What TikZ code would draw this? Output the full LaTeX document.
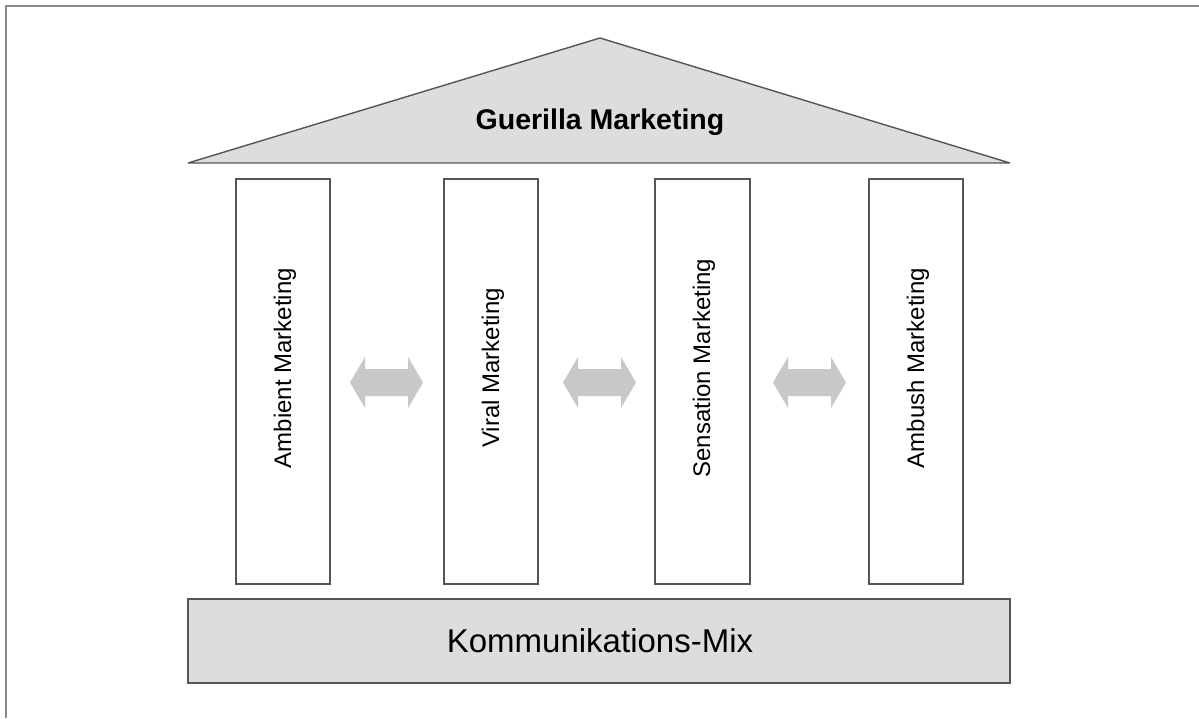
\documentclass[tikz,border=0pt]{standalone}
\usepackage{fontspec}
\setmainfont{Liberation Sans}
\definecolor{roofgray}{HTML}{DDDDDD}
\definecolor{linegray}{HTML}{555555}
\definecolor{framegray}{HTML}{8A8A8A}
\definecolor{arrowgray}{HTML}{C8C8C8}
\begin{document}
\begin{tikzpicture}[x=1pt,y=-1pt,
  pillar/.style={draw=linegray, line width=1.4pt, fill=white},
  pillartext/.style={rotate=90, font=\fontsize{24}{28}\selectfont, inner sep=0pt},
  linkarrow/.style={fill=arrowgray, draw=none}]
\useasboundingbox (0,0) rectangle (1199,718);
\fill[white] (0,0) rectangle (1199,718);
% frame (only top and left visible)
\draw[framegray, line width=2pt] (6,718) -- (6,6) -- (1199,6);
% roof
\coordinate (apex) at (600,38);
\coordinate (roofL) at (188,163);
\coordinate (roofR) at (1010,163);
\draw[linegray, line width=1.4pt, fill=roofgray, line join=bevel] (roofL) -- (apex) -- (roofR) -- cycle;
\node[font=\bfseries\fontsize{28.5}{32}\selectfont, inner sep=0pt] (title) at (600,122) {Guerilla Marketing};
% pillars
\draw[pillar] (236,179) rectangle (330,584);
\draw[pillar] (444,179) rectangle (538,584);
\draw[pillar] (655,179) rectangle (750,584);
\draw[pillar] (869,179) rectangle (963,584);
\node[pillartext] (p1) at (285,368) {Ambient Marketing};
\node[pillartext] (p2) at (493,368) {Viral Marketing};
\node[pillartext] (p3) at (704,368) {Sensation Marketing};
\node[pillartext] (p4) at (918,368) {Ambush Marketing};
% arrows (double-headed block arrows)
\coordinate (a1) at (386.5,382.5);
\coordinate (a2) at (599.5,382.5);
\coordinate (a3) at (809.5,382.5);
\foreach \c in {a1,a2,a3}{
  \fill[linkarrow, shift={(\c)}]
    (-36.5,0) -- (-21.5,-25.5) -- (-21.5,-13.5) -- (21.5,-13.5) -- (21.5,-25.5)
    -- (36.5,0) -- (21.5,25.5) -- (21.5,13.5) -- (-21.5,13.5) -- (-21.5,25.5) -- cycle;
}
% base
\draw[linegray, line width=1.4pt, fill=roofgray] (188,599) rectangle (1010,683);
\node[font=\fontsize{33}{38}\selectfont, inner sep=0pt] (base) at (600,641) {Kommunikations-Mix};
\end{tikzpicture}
\end{document}
